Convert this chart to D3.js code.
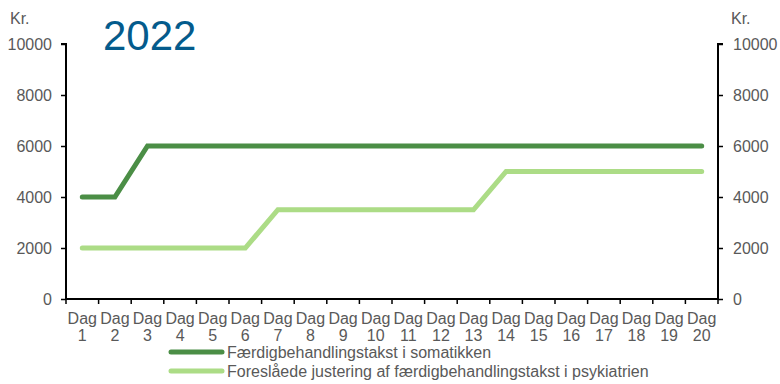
<!DOCTYPE html>
<html>
<head>
<meta charset="utf-8">
<script src="https://cdn.jsdelivr.net/npm/d3@7"></script>
<style>
  html, body { margin: 0; padding: 0; background: #fff; }
  svg { display: block; font-family: "Liberation Sans", Arial, sans-serif; }
</style>
</head>
<body>
<svg id="chart" width="780" height="384"></svg>
<script>
// Daily rates (kr.) per day of stay
const days = d3.range(1, 21).map(d => "Dag " + d);
const somatik = [4000, 4000, 6000, 6000, 6000, 6000, 6000, 6000, 6000, 6000,
                 6000, 6000, 6000, 6000, 6000, 6000, 6000, 6000, 6000, 6000];
const psykiatri = [2000, 2000, 2000, 2000, 2000, 2000, 3500, 3500, 3500, 3500,
                   3500, 3500, 3500, 5000, 5000, 5000, 5000, 5000, 5000, 5000];
const yTicks = [0, 2000, 4000, 6000, 8000, 10000];
const seriesNames = ["Færdigbehandlingstakst i somatikken",
                     "Foreslåede justering af færdigbehandlingstakst i psykiatrien"];
const seriesColors = ["#4b8e46", "#acdc86"];

const svg = d3.select("#chart");
const plotL = 66, plotR = 718, plotT = 44, plotB = 299;
const labelColor = "#595959";
const fontSize = "16px";

const x = d3.scaleBand().domain(days).range([plotL, plotR]).paddingInner(0).paddingOuter(0);
const y = d3.scaleLinear().domain([0, 10000]).range([plotB, plotT]);

// Left value axis
const yLeft = svg.append("g").attr("transform", `translate(${plotL},0)`)
  .call(d3.axisLeft(y).tickValues(yTicks).tickSize(5).tickPadding(9).tickFormat(d3.format("d")));
// Right value axis
const yRight = svg.append("g").attr("transform", `translate(${plotR},0)`)
  .call(d3.axisRight(y).tickValues(yTicks).tickSize(5).tickPadding(10).tickFormat(d3.format("d")));

[yLeft, yRight].forEach(g => {
  g.select(".domain").attr("stroke", "#000").attr("stroke-width", 2)
    .attr("d", g === yLeft ? `M-5,${plotT}H0V${plotB}` : `M5,${plotT}H0V${plotB}`);
  g.selectAll(".tick line").attr("stroke", "#000").attr("stroke-width", 1.5);
  g.selectAll(".tick text").attr("fill", labelColor).style("font-size", fontSize)
    .style("font-family", "'Liberation Sans', Arial, sans-serif");
});

// Category axis: tick marks at band boundaries
const xAxisG = svg.append("g").attr("transform", `translate(0,${plotB})`);
xAxisG.append("line").attr("x1", plotL).attr("x2", plotR).attr("y1", 0).attr("y2", 0)
  .attr("stroke", "#000").attr("stroke-width", 2);
const boundaries = days.map(d => x(d)).concat([x(days[days.length - 1]) + x.bandwidth()]);
xAxisG.selectAll("line.tk").data(boundaries).join("line").attr("class", "tk")
  .attr("x1", d => d).attr("x2", d => d).attr("y1", 0).attr("y2", 5)
  .attr("stroke", "#000").attr("stroke-width", 1.5);
const catLabels = xAxisG.selectAll("text.cat").data(days).join("text").attr("class", "cat")
  .attr("x", d => x(d) + x.bandwidth() / 2)
  .attr("text-anchor", "middle")
  .attr("fill", labelColor).style("font-size", fontSize);
catLabels.append("tspan").attr("x", d => x(d) + x.bandwidth() / 2).attr("y", 25).text(d => d.split(" ")[0]);
catLabels.append("tspan").attr("x", d => x(d) + x.bandwidth() / 2).attr("y", 42).text(d => d.split(" ")[1]);

// Unit labels
svg.append("text").attr("x", 10).attr("y", 24).attr("fill", labelColor).style("font-size", fontSize).text("Kr.");
svg.append("text").attr("x", 731).attr("y", 24).attr("fill", labelColor).style("font-size", fontSize).text("Kr.");

// Year title
svg.append("text").attr("x", 103).attr("y", 50).attr("fill", "#045b8c")
  .style("font-size", "42px").text("2022");

// Series lines
const line = d3.line().x((d, i) => x(days[i]) + x.bandwidth() / 2).y(d => y(d));
[psykiatri, somatik].forEach((vals, k) => {
  svg.append("path").datum(vals).attr("d", line)
    .attr("fill", "none").attr("stroke", seriesColors[1 - k]).attr("stroke-width", 5)
    .attr("stroke-linecap", "round").attr("stroke-linejoin", "miter");
});

// Legend
const legend = svg.append("g");
seriesNames.forEach((name, i) => {
  const ly = 352 + i * 19;
  legend.append("line").attr("x1", 171).attr("x2", 222).attr("y1", ly).attr("y2", ly)
    .attr("stroke", seriesColors[i]).attr("stroke-width", 5).attr("stroke-linecap", "round");
  legend.append("text").attr("x", 227).attr("y", ly + 6).attr("fill", labelColor)
    .style("font-size", fontSize).text(name);
});
</script>
</body>
</html>
